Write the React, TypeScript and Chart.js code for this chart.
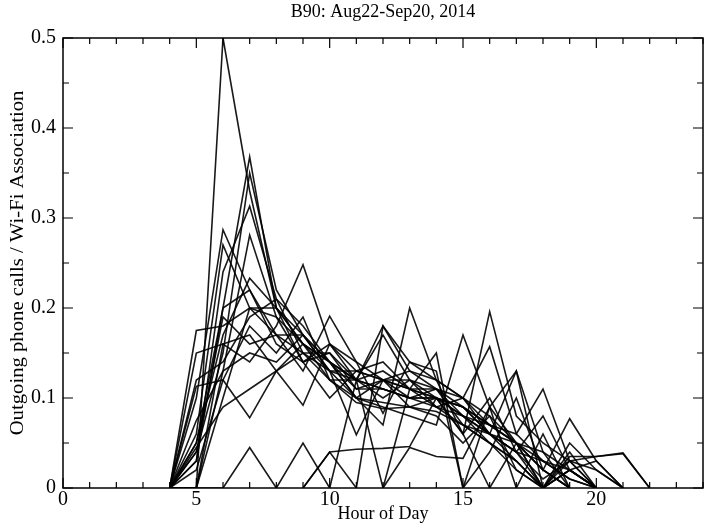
import React, { useEffect, useRef } from 'react';
import { Chart, registerables } from 'chart.js';

Chart.register(...registerables);

const HOURS = [4, 5, 6, 7, 8, 9, 10, 11, 12, 13, 14, 15, 16, 17, 18, 19, 20, 21, 22];

const S_A = [0, 0, 0.5, 0.33, 0.2, 0.17, 0.14, 0.12, 0.13, 0.11, 0.1, 0.08, 0.06, 0.04, 0, 0.02, 0, null, null];
const S_B = [0, 0.05, 0.2, 0.368, 0.2, 0.16, 0.14, 0.12, 0.17, 0.12, 0.11, 0.09, 0.07, 0.05, 0.02, 0, null, null, null];
const S_C = [0, 0.04, 0.15, 0.35, 0.22, 0.17, 0.13, 0.13, 0.12, 0.12, 0.1, 0.09, 0.06, 0.04, 0.01, 0.03, 0.02, 0, null];
const S_D = [0, 0.03, 0.24, 0.313, 0.21, 0.15, 0.15, 0.11, 0.12, 0.13, 0.12, 0.1, 0.07, 0.06, 0.03, 0.02, 0, null, null];
const S_E = [0, 0.1, 0.287, 0.22, 0.17, 0.17, 0.14, 0.11, 0.11, 0.1, 0.09, 0.07, 0.06, 0.03, 0, 0.02, 0, null, null];
const S_F = [0, 0, 0.13, 0.281, 0.19, 0.16, 0.12, 0.12, 0.18, 0.13, 0.11, 0.1, 0.08, 0.05, 0.04, 0.02, 0, null, null];
const S_G = [0, 0.06, 0.27, 0.2, 0.2, 0.14, 0.16, 0.12, 0.1, 0.12, 0.09, 0.08, 0.07, 0.05, 0.02, 0, null, null, null];
const S_H = [0, 0, 0.16, 0.14, 0.18, 0.248, 0.16, 0.13, 0.12, 0.11, 0.1, 0.09, 0.06, 0.04, 0.03, 0.01, 0, null, null];
const S_I = [0, 0.05, 0.17, 0.233, 0.2, 0.16, 0.14, 0.1, 0.12, 0.11, 0.11, 0.08, 0.05, 0.03, 0, 0.02, 0.03, 0, null];
const S_J = [0, 0.175, 0.18, 0.2, 0.17, 0.15, 0.13, 0.12, 0.11, 0.1, 0.1, 0.08, 0.06, 0.05, 0.03, 0.01, 0, null, null];
const S_K = [0, 0.12, 0.14, 0.19, 0.21, 0.18, 0.14, 0.1, 0.09, 0.08, 0.07, 0.17, 0.09, 0.05, 0, 0.04, 0, null, null];
const S_L = [0, 0.02, 0.12, 0.18, 0.15, 0.19, 0.12, 0.1, 0.07, 0.2, 0.12, 0.1, 0.06, 0.13, 0.04, 0, null, null, null];
const S_M = [0, 0, 0.1, 0.2, 0.19, 0.14, 0.15, 0.12, 0.11, 0.1, 0.1, 0.06, 0.196, 0.08, 0.05, 0.03, 0, null, null];
const S_N = [0, 0.03, 0.2, 0.22, 0.16, 0.14, 0.1, 0.13, 0.14, 0.11, 0.09, 0.1, 0.157, 0.06, 0.11, 0.03, 0, null, null];
const S_O = [0, 0.04, 0.19, 0.16, 0.17, 0.13, 0.191, 0.14, 0.12, 0.1, 0.11, 0.07, 0.05, 0.02, 0, 0.05, 0.02, 0, null];
const S_P = [0, 0.113, 0.12, 0.078, 0.13, 0.16, 0.13, 0.059, 0.12, 0.09, 0.08, 0.05, 0.08, 0.02, 0, null, null, null, null];
const S_Q = [0, 0.15, 0.16, 0.17, 0.13, 0.092, 0.16, 0.14, 0.083, 0.14, 0.12, 0.06, 0.1, 0.04, 0.08, 0.02, 0, null, null];
const S_R = [0, 0, 0, 0.045, 0, 0.05, 0, 0.12, 0, 0.11, 0.15, 0, 0.09, 0, 0.06, 0, null, null, null];
const S_S = [null, null, null, null, null, 0, 0.04, 0.043, 0.044, 0.046, 0.1, 0.06, 0, 0.05, 0, null, null, null, null];
const S_T = [null, null, null, null, null, null, null, null, 0, 0.045, 0.035, 0.033, 0.09, 0.13, 0, 0.03, 0.035, 0.038, 0];
const S_U = [null, null, null, null, null, 0, 0.04, 0, 0.18, 0.14, 0.13, 0, 0.04, 0.1, 0.02, 0.077, 0.03, 0, null];
const S_V = [0, 0.075, 0.13, 0.15, 0.14, 0.17, 0.13, 0.1, 0.095, 0.09, 0.085, 0.07, 0.05, 0.03, 0, 0.035, 0.035, 0.039, 0];
const S_W = [0, 0.045, 0.09, 0.11, 0.13, 0.15, 0.12, 0.095, 0.088, 0.09, 0.1, 0.09, 0.07, 0.05, 0.02, 0, null, null, null];

const SERIES = [S_A, S_B, S_C, S_D, S_E, S_F, S_G, S_H, S_I, S_J, S_K, S_L, S_M, S_N, S_O, S_P, S_Q, S_R, S_S, S_T, S_U, S_V, S_W];

const X_TICKS = [0, 5, 10, 15, 20];
const Y_TICKS = [0, 0.1, 0.2, 0.3, 0.4, 0.5];
const TITLE = 'B90: Aug22-Sep20, 2014';
const X_LABEL = 'Hour of Day';
const Y_LABEL = 'Outgoing phone calls / Wi-Fi Association';

const FONT = '"Liberation Serif", "DejaVu Serif", serif';

const framePlugin = {
  id: 'frameTicks',
  afterDatasetsDraw(chart: any) {
    const { ctx, chartArea, scales } = chart;
    const { left, right, top, bottom } = chartArea;
    const x = scales.x;
    const y = scales.y;
    ctx.save();
    ctx.strokeStyle = '#000';
    ctx.lineWidth = 1.5;
    ctx.strokeRect(left, top, right - left, bottom - top);
    ctx.lineWidth = 1.2;
    ctx.beginPath();
    for (let h = 0; h <= 24; h++) {
      const px = x.getPixelForValue(h);
      const len = h % 5 === 0 ? 10 : 6;
      ctx.moveTo(px, bottom);
      ctx.lineTo(px, bottom - len);
      ctx.moveTo(px, top);
      ctx.lineTo(px, top + len);
    }
    for (let i = 0; i <= 10; i++) {
      const py = y.getPixelForValue(i * 0.05);
      const len = i % 2 === 0 ? 10 : 6;
      ctx.moveTo(left, py);
      ctx.lineTo(left + len, py);
      ctx.moveTo(right, py);
      ctx.lineTo(right - len, py);
    }
    ctx.stroke();
    ctx.fillStyle = '#000';
    ctx.font = '18px ' + FONT;
    ctx.textAlign = 'center';
    ctx.textBaseline = 'middle';
    ctx.fillText(TITLE, (left + right) / 2, top - 26);
    // y-axis title, stretched along its direction like the reference
    ctx.translate(left - 45, (top + bottom) / 2);
    ctx.rotate(-Math.PI / 2);
    ctx.scale(1.15, 1);
    ctx.fillText(Y_LABEL, 0, 0);
    ctx.restore();
  },
};

export default function App() {
  const ref = useRef<HTMLCanvasElement | null>(null);
  useEffect(() => {
    if (!ref.current) return;
    const datasets = SERIES.map((s, k) => ({
      label: 'day ' + (k + 1),
      data: HOURS.map((h, i) => ({ x: h, y: s[i] })).filter((p) => p.y !== null),
      borderColor: 'rgba(0,0,0,0.9)',
      borderWidth: 1.6,
      pointRadius: 0,
      fill: false,
      tension: 0,
    }));
    const chart = new Chart(ref.current, {
      type: 'line',
      data: { datasets: datasets as any },
      options: {
        responsive: false,
        animation: false,
        devicePixelRatio: 1,
        layout: { padding: { top: 38, right: 1, left: 0, bottom: 0 } },
        plugins: { legend: { display: false }, tooltip: { enabled: false }, title: { display: false } },
        scales: {
          x: {
            type: 'linear',
            min: 0,
            max: 24,
            afterFit: (s: any) => { s.height = 41; },
            afterBuildTicks: (s: any) => { s.ticks = X_TICKS.map((v) => ({ value: v })); },
            grid: { display: false, drawTicks: false },
            border: { display: false },
            ticks: { color: '#000', font: { size: 20, family: FONT }, padding: 0, maxRotation: 0, autoSkip: false },
            title: { display: true, text: X_LABEL, color: '#000', font: { size: 18, family: FONT }, padding: { top: 0, bottom: 4 } },
          },
          y: {
            type: 'linear',
            min: 0,
            max: 0.5,
            afterFit: (s: any) => { s.width = 63; },
            afterBuildTicks: (s: any) => { s.ticks = Y_TICKS.map((v) => ({ value: v })); },
            grid: { display: false, drawTicks: false },
            border: { display: false },
            ticks: {
              color: '#000',
              font: { size: 20, family: FONT },
              padding: 7,
              autoSkip: false,
              callback: (v: any) => (Number(v) === 0 ? '0' : Number(v).toFixed(1)),
            },
            title: { display: false },
          },
        },
      },
      plugins: [framePlugin],
    });
    return () => chart.destroy();
  }, []);
  return (
    <canvas
      ref={ref}
      width={704}
      height={529}
      style={{ position: 'absolute', left: 0, top: 0, width: 704, height: 529, background: '#fff' }}
    />
  );
}
